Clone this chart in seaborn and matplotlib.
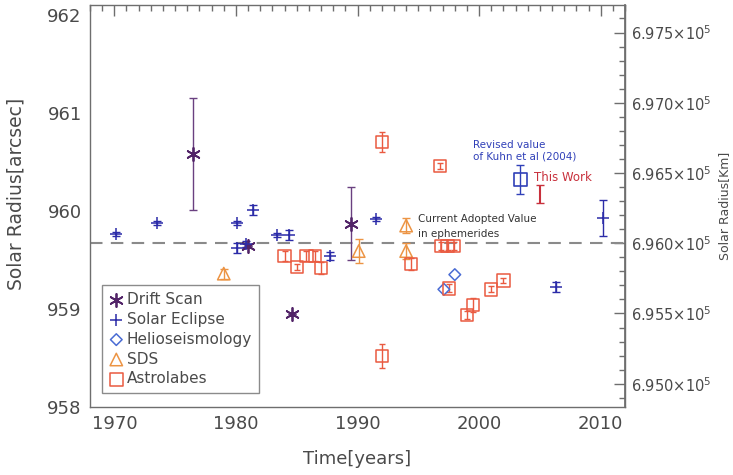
import matplotlib
matplotlib.use('Agg')
import matplotlib.pyplot as plt
from matplotlib.ticker import MultipleLocator, FixedLocator, FixedFormatter
import seaborn as sns

# Drift scan measurements
drift_year = [1976.5, 1981.0, 1984.6, 1989.5]
drift_val = [960.58, 959.64, 958.95, 959.87]
drift_err = [0.57, 0.0, 0.0, 0.37]

# Solar eclipse measurements
eclipse_year = [1970.1, 1973.5, 1980.1, 1980.1, 1980.8, 1981.4, 1983.4, 1984.4, 1987.7, 1991.5, 2006.3, 2010.2]
eclipse_val = [959.76, 959.88, 959.88, 959.62, 959.66, 960.01, 959.75, 959.75, 959.54, 959.92, 959.22, 959.93]
eclipse_err = [0.02, 0.02, 0.02, 0.05, 0.03, 0.05, 0.02, 0.05, 0.04, 0.02, 0.05, 0.185]

# Helioseismology
helio_year = [1997.1, 1998.0]
helio_val = [959.20, 959.35]

# SDS
sds_year = [1979.0, 1990.1, 1994.0, 1994.0]
sds_val = [959.36, 959.59, 959.85, 959.59]
sds_err = [0.05, 0.12, 0.08, 0.08]

# Astrolabes
astro_year = [1984.0, 1985.0, 1985.8, 1986.5, 1987.0, 1992.0, 1992.0, 1994.4, 1996.8,
              1996.9, 1997.4, 1997.9, 1997.5, 1999.0, 1999.5, 2001.0, 2002.0]
astro_val = [959.54, 959.43, 959.54, 959.54, 959.42, 960.70, 958.52, 959.46, 960.46,
             959.64, 959.64, 959.64, 959.21, 958.94, 959.04, 959.20, 959.29]
astro_err = [0.05, 0.03, 0.05, 0.05, 0.06, 0.10, 0.12, 0.06, 0.03,
             0.04, 0.04, 0.04, 0.04, 0.04, 0.07, 0.03, 0.03]

# Kuhn et al revised value and this work
kuhn_year, kuhn_val, kuhn_err = [2003.4], [960.32], [0.15]
work_year, work_val, work_err = [2005.0], [960.17], [0.09]

adopted = 959.67  # dashed line, sits at 6.960e5 km on the right axis
km_per_arcsec = 698.0
km_ticks = [695000, 695500, 696000, 696500, 697000, 697500]
km_labels = [r'$6.950{\times}10^5$', r'$6.955{\times}10^5$', r'$6.960{\times}10^5$',
             r'$6.965{\times}10^5$', r'$6.970{\times}10^5$', r'$6.975{\times}10^5$']

c_drift = '#522468'
c_ecl = '#2b2ba8'
c_helio = '#4a6cd4'
c_sds = '#ec9444'
c_astro = '#ea5a40'
c_kuhn = '#3040b8'
c_work = '#c8303c'
grey = '#6e6e6e'
txt = '#4a4a4a'

sns.set_theme(style='white')
plt.rcParams['font.family'] = ['DejaVu Sans']

fig, ax = plt.subplots(figsize=(7.33, 4.75), dpi=100)
fig.subplots_adjust(left=0.1228, right=0.8527, bottom=0.1432, top=0.9895)

ax.axhline(adopted, color='#8a8a8a', lw=1.5, ls=(0, (6, 4)), zorder=1)

# error bars
ax.errorbar(drift_year, drift_val, yerr=drift_err, fmt='none', ecolor='#6a4080', elinewidth=1, capsize=3)
ax.errorbar(eclipse_year, eclipse_val, yerr=eclipse_err, fmt='none', ecolor=c_ecl, elinewidth=1, capsize=3)
ax.errorbar(sds_year, sds_val, yerr=sds_err, fmt='none', ecolor=c_sds, elinewidth=1, capsize=3)
ax.errorbar(astro_year, astro_val, yerr=astro_err, fmt='none', ecolor=c_astro, elinewidth=1, capsize=2)
ax.errorbar(kuhn_year, kuhn_val, yerr=kuhn_err, fmt='none', ecolor=c_kuhn, elinewidth=1, capsize=3)
ax.errorbar(work_year, work_val, yerr=work_err, fmt='none', ecolor=c_work, elinewidth=1.5, capsize=3)

# markers
sns.scatterplot(x=drift_year, y=drift_val, marker=(6, 2, 0), s=90, color=c_drift, linewidth=1.3,
                ax=ax, label='Drift Scan', zorder=3)
sns.scatterplot(x=eclipse_year, y=eclipse_val, marker='+', s=70, color=c_ecl, linewidth=1.1,
                ax=ax, label='Solar Eclipse', zorder=3)
sns.scatterplot(x=helio_year, y=helio_val, marker='D', s=35, color=c_helio, facecolor='none',
                edgecolor=c_helio, linewidth=1.1, ax=ax, label='Helioseismology', zorder=3)
sns.scatterplot(x=sds_year, y=sds_val, marker='^', s=80, color=c_sds, facecolor='none',
                edgecolor=c_sds, linewidth=1.1, ax=ax, label='SDS', zorder=3)
sns.scatterplot(x=astro_year, y=astro_val, marker='s', s=80, color=c_astro, facecolor='none',
                edgecolor=c_astro, linewidth=1.1, ax=ax, label='Astrolabes', zorder=3)
sns.scatterplot(x=kuhn_year, y=kuhn_val, marker='s', s=90, color=c_kuhn, facecolor='none',
                edgecolor=c_kuhn, linewidth=1.2, ax=ax, zorder=3)

ax.set_xlim(1968, 2012)
ax.set_ylim(958, 962.1)
ax.xaxis.set_major_locator(MultipleLocator(10))
ax.xaxis.set_minor_locator(MultipleLocator(1))
ax.yaxis.set_major_locator(MultipleLocator(1))
ax.yaxis.set_minor_locator(MultipleLocator(0.1))
ax.tick_params(which='both', direction='in', top=True, right=False, colors=grey,
               labelcolor=txt, labelsize=13, width=1)
ax.tick_params(which='major', length=8, pad=6)
ax.tick_params(which='minor', length=4)
for s in ax.spines.values():
    s.set_color(grey)
    s.set_linewidth(1)

ax.set_xlabel('Time[years]', fontsize=13, color=txt, labelpad=12)
ax.set_ylabel('Solar Radius[arcsec]', fontsize=13.5, color=txt)
ax.yaxis.set_label_coords(-0.12, 0.53)

# right axis in km
sec = ax.secondary_yaxis('right', functions=(lambda a: 696000 + (a - adopted) * km_per_arcsec,
                                             lambda k: adopted + (k - 696000) / km_per_arcsec))
sec.yaxis.set_major_locator(FixedLocator(km_ticks))
sec.yaxis.set_major_formatter(FixedFormatter(km_labels))
sec.yaxis.set_minor_locator(MultipleLocator(100))
sec.tick_params(which='both', direction='in', colors=grey, labelcolor=txt, labelsize=10.5, width=1)
sec.tick_params(which='major', length=8, pad=4)
sec.tick_params(which='minor', length=4)
sec.spines['right'].set_color(grey)
sec.set_ylabel('Solar Radius[Km]', fontsize=9, color=txt, labelpad=5)

# annotations
ax.text(1999.5, 960.67, 'Revised value', color=c_kuhn, fontsize=7.5, va='center')
ax.text(1999.5, 960.55, 'of Kuhn et al (2004)', color=c_kuhn, fontsize=7.5, va='center')
ax.text(2004.5, 960.34, 'This Work', color=c_work, fontsize=8.5, va='center')
ax.text(1995.0, 959.92, 'Current Adopted Value', color='#333333', fontsize=7.5, va='center')
ax.text(1995.0, 959.76, 'in ephemerides', color='#333333', fontsize=7.5, va='center')

leg = ax.legend(loc='upper left', bbox_to_anchor=(0.022, 0.3035), frameon=True, fancybox=False,
                edgecolor=grey, fontsize=11, handletextpad=0.2, borderaxespad=0,
                labelspacing=0.32, borderpad=0.45, handlelength=1.0)
leg.get_frame().set_linewidth(1)
for t in leg.get_texts():
    t.set_color(txt)

fig.savefig('out.png', dpi=100)
